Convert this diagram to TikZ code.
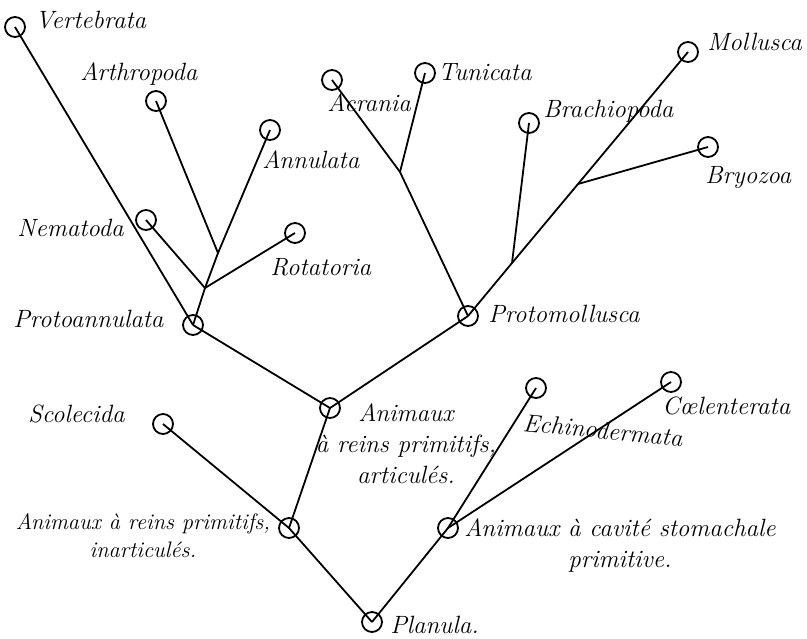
\documentclass[tikz,border=0pt]{standalone}
\begin{document}
\begin{tikzpicture}[x=0.5pt,y=-0.5pt,
  taxon/.style={circle,draw,line width=0.9pt,minimum size=10pt,inner sep=0pt},
  lbl/.style={inner sep=0pt,font=\fontsize{12.5}{15.5}\selectfont\itshape},
  branch/.style={line width=0.9pt}]
\useasboundingbox (0,0) rectangle (807,638);
% taxa
\node[taxon] (vert) at (15,27) {};
\node[taxon] (arth) at (156,101) {};
\node[taxon] (annu) at (270,130) {};
\node[taxon] (nema) at (146,220) {};
\node[taxon] (rota) at (295,233) {};
\node[taxon] (protoa) at (193,325) {};
\node[taxon] (acra) at (332,80) {};
\node[taxon] (tuni) at (425,73) {};
\node[taxon] (brach) at (529,123) {};
\node[taxon] (moll) at (688,52) {};
\node[taxon] (bryo) at (708,147) {};
\node[taxon] (protom) at (468,316) {};
\node[taxon] (artic) at (330,408) {};
\node[taxon] (scol) at (163,424) {};
\node[taxon] (inart) at (289,528) {};
\node[taxon] (plan) at (372,622) {};
\node[taxon] (cavit) at (448,528) {};
\node[taxon] (echi) at (536,388) {};
\node[taxon] (coel) at (671,382) {};
% junctions
\coordinate (jaa) at (218,253);
\coordinate (jnr) at (205,288);
\coordinate (jat) at (400,172);
\coordinate (jbr) at (512,263);
\coordinate (jmb) at (578,184);
% branches
\draw[branch] (vert.center) -- (protoa.center);
\draw[branch] (arth.center) -- (jaa);
\draw[branch] (annu.center) -- (jaa) -- (jnr) -- (protoa.center);
\draw[branch] (nema.center) -- (jnr);
\draw[branch] (rota.center) -- (jnr);
\draw[branch] (acra.center) -- (jat) -- (protom.center);
\draw[branch] (tuni.center) -- (jat);
\draw[branch] (protom.center) -- (jbr) -- (jmb) -- (moll.center);
\draw[branch] (brach.center) -- (jbr);
\draw[branch] (bryo.center) -- (jmb);
\draw[branch] (protoa.center) -- (artic.center) -- (protom.center);
\draw[branch] (artic.center) -- (inart.center);
\draw[branch] (scol.center) -- (inart.center) -- (plan.center);
\draw[branch] (plan.center) -- (cavit.center) -- (echi.center);
\draw[branch] (cavit.center) -- (coel.center);
% labels
\node[lbl,anchor=base west] (l-vert) at (35,28) {Vertebrata};
\node[lbl,anchor=base west] (l-arth) at (80,80) {Arthropoda};
\node[lbl,anchor=base west] (l-annu) at (262,168) {Annulata};
\node[lbl,anchor=base west] (l-nema) at (17,236) {Nematoda};
\node[lbl,anchor=base west] (l-rota) at (270,275) {Rotatoria};
\node[lbl,anchor=base west] (l-protoa) at (13,327) {Protoannulata};
\node[lbl,anchor=base west] (l-acra) at (327,111) {Acrania};
\node[lbl,anchor=base west] (l-tuni) at (438,80) {Tunicata};
\node[lbl,anchor=base west] (l-brach) at (543,117) {Brachiopoda};
\node[lbl,anchor=base west] (l-moll) at (707,50) {Mollusca};
\node[lbl,anchor=base west] (l-bryo) at (705,183) {Bryozoa};
\node[lbl,anchor=base west] (l-protom) at (488,322) {Protomollusca};
\node[lbl,anchor=north,align=center] (l-artic) at (406,403) {Animaux\\à reins primitifs,\\articulés.};
\node[lbl,anchor=base west,rotate=-5.5] (l-echi) at (522,431) {Echinodermata};
\node[lbl,anchor=base west] (l-coel) at (662,414) {C\oe lenterata};
\node[lbl,anchor=base west] (l-scol) at (28,422) {Scolecida};
\node[lbl,anchor=north,align=center,font=\fontsize{11.2}{14}\selectfont\itshape] (l-inart) at (143,513) {Animaux à reins primitifs,\\inarticulés.};
\node[lbl,anchor=north,align=center] (l-cavit) at (620,518) {Animaux à cavité stomachale\\primitive.};
\node[lbl,anchor=base west] (l-plan) at (390,633) {Planula.};
\end{tikzpicture}
\end{document}
